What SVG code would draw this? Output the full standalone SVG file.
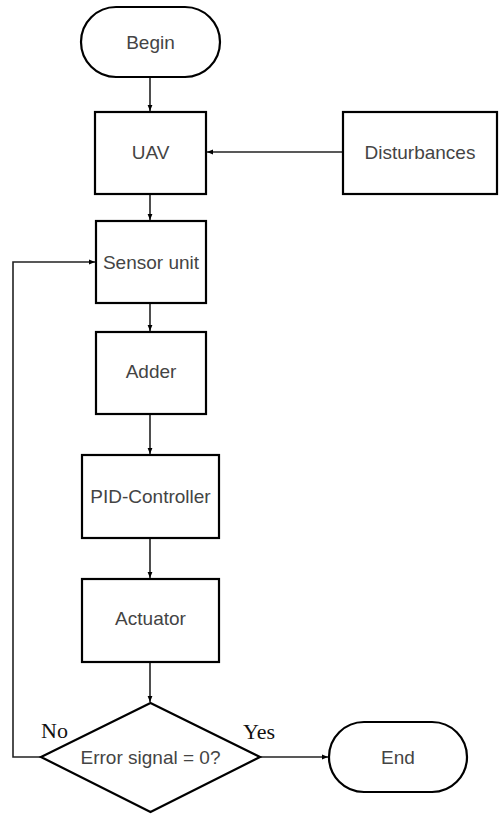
<svg xmlns="http://www.w3.org/2000/svg" width="500" height="814" viewBox="0 0 500 814">
<style>
.box{fill:#fff;stroke:#000;stroke-width:2.2}
.lbl{font-family:"Liberation Sans",Arial,sans-serif;font-size:19px;fill:#444;text-anchor:middle}
.yn{font-family:"Liberation Serif","Times New Roman",serif;font-size:22px;fill:#111}
.con{fill:none;stroke:#222;stroke-width:1.6}
</style>
<defs>
<marker id="arr" viewBox="0 0 10 10" refX="10" refY="5" markerWidth="6" markerHeight="6" markerUnits="userSpaceOnUse" orient="auto">
<path d="M0,1 L10,5 L0,9 z" fill="#000"/>
</marker>
</defs>
<rect width="500" height="814" fill="#fff"/>
<g id="connectors">
<line class="con" x1="150" y1="77" x2="150" y2="111" marker-end="url(#arr)"/>
<line class="con" x1="150" y1="194" x2="150" y2="220" marker-end="url(#arr)"/>
<line class="con" x1="150" y1="303" x2="150" y2="331" marker-end="url(#arr)"/>
<line class="con" x1="150" y1="414" x2="150" y2="454" marker-end="url(#arr)"/>
<line class="con" x1="150" y1="538" x2="150" y2="578" marker-end="url(#arr)"/>
<line class="con" x1="150" y1="662" x2="150" y2="702" marker-end="url(#arr)"/>
<line class="con" x1="343" y1="152" x2="207" y2="152" marker-end="url(#arr)"/>
<polyline class="con" points="41,757 13,757 13,262 95,262" marker-end="url(#arr)"/>
<line class="con" x1="260" y1="757" x2="328" y2="757" marker-end="url(#arr)"/>
</g>
<g id="begin">
<rect class="box" x="81" y="7" width="139" height="70" rx="35" ry="35"/>
<text class="lbl" x="150.5" y="49">Begin</text>
</g>
<g id="uav">
<rect class="box" x="95" y="112" width="111" height="82"/>
<text class="lbl" x="150.5" y="159">UAV</text>
</g>
<g id="disturbances">
<rect class="box" x="343" y="112" width="154" height="82"/>
<text class="lbl" x="420" y="159">Disturbances</text>
</g>
<g id="sensor">
<rect class="box" x="96" y="221" width="110" height="82"/>
<text class="lbl" x="151" y="269">Sensor unit</text>
</g>
<g id="adder">
<rect class="box" x="96" y="332" width="110" height="82"/>
<text class="lbl" x="151" y="378">Adder</text>
</g>
<g id="pid">
<rect class="box" x="82" y="455" width="137" height="83"/>
<text class="lbl" x="150.5" y="503">PID-Controller</text>
</g>
<g id="actuator">
<rect class="box" x="82" y="579" width="137" height="83"/>
<text class="lbl" x="150.5" y="625">Actuator</text>
</g>
<g id="decision">
<polygon class="box" points="150.5,703 260,757 150.5,812 41,757"/>
<text class="lbl" x="150.5" y="764">Error signal = 0?</text>
<text class="yn" x="41" y="738">No</text>
<text class="yn" x="243" y="739">Yes</text>
</g>
<g id="end">
<rect class="box" x="329" y="722" width="138" height="70" rx="35" ry="35"/>
<text class="lbl" x="398" y="764">End</text>
</g>
</svg>
